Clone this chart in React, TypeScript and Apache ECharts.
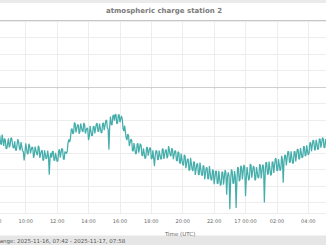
import React, { useEffect, useRef } from "react";
import * as echarts from "echarts";

// Time axis in hours since 2025-11-16 00:00 UTC
const rangeStartHour = 7.7; // 07:42
const rangeEndHour = 31.9667; // 2025-11-17 07:58
const sampleStepHours = 0.05; // 3-minute samples

// Atmospheric charge (V/m), in 3-minute samples
const seg0742 = [
  -143, -169, -166, -141, -139, -151, -164, -173, -151, -148,
  -177, -161, -146, -148, -171, -175, -144, -162, -179, -156,
  -161, -187, -186, -171, -156, -183, -178, -156, -154, -170,
  -185, -184, -165, -191, -192, -175, -158, -168, -186, -192,
  -167, -180, -194, -197, -223, -202, -171, -186, -202, -203,
  -172, -178, -201, -191, -182, -184, -215, -205, -181, -192,
  -203, -207, -178, -183, -215, -204, -194, -192, -223, -220,
  -192, -205, -218, -214, -193, -210, -266, -215, -200, -214,
];
const seg1142 = [
  -196, -195, -222, -223, -200, -213, -226, -224, -194, -189,
  -214, -200, -186, -190, -218, -220, -196, -199, -202, -193,
  -168, -159, -167, -155, -130, -126, -142, -139, -108, -111,
  -138, -126, -115, -115, -142, -136, -111, -122, -133, -136,
  -109, -114, -141, -132, -124, -127, -161, -150, -118, -133,
  -148, -147, -120, -119, -141, -126, -112, -110, -135, -135,
  -111, -124, -138, -139, -111, -109, -131, -117, -103, -100,
  -125, -128, -190, -120, -90, -113, -115, -88, -85, -102,
];
const seg1542 = [
  -83, -84, -111, -110, -85, -84, -107, -97, -88, -98,
  -127, -134, -117, -136, -155, -161, -143, -147, -179, -168,
  -158, -161, -194, -194, -170, -186, -203, -201, -173, -171,
  -199, -185, -172, -177, -207, -209, -186, -201, -217, -214,
  -183, -184, -208, -196, -184, -186, -218, -217, -192, -216,
  -240, -207, -193, -194, -220, -220, -193, -206, -219, -217,
  -188, -188, -218, -205, -192, -190, -216, -211, -179, -192,
  -206, -210, -186, -189, -219, -206, -194, -194, -223, -224,
];
const seg1942 = [
  -197, -198, -230, -232, -202, -220, -235, -238, -206, -209,
  -246, -232, -219, -219, -253, -251, -215, -233, -250, -255,
  -226, -229, -267, -250, -234, -232, -266, -266, -229, -248,
  -266, -269, -238, -241, -280, -262, -245, -244, -279, -278,
  -240, -260, -280, -283, -250, -255, -295, -275, -255, -256,
  -293, -292, -254, -277, -299, -294, -257, -259, -296, -274,
  -252, -260, -327, -273, -259, -270, -371, -286, -250, -256,
  -292, -292, -255, -271, -367, -285, -243, -247, -286, -281,
];
const seg2342 = [
  -239, -242, -280, -258, -236, -244, -331, -277, -243, -263,
  -283, -277, -234, -237, -275, -257, -240, -244, -283, -279,
  -243, -260, -276, -273, -234, -239, -277, -256, -235, -243,
  -350, -264, -228, -230, -265, -264, -226, -247, -268, -265,
  -227, -228, -261, -238, -216, -219, -254, -253, -219, -236,
  -254, -248, -209, -220, -290, -228, -206, -208, -238, -216,
  -195, -197, -229, -228, -195, -213, -232, -229, -196, -196,
  -226, -207, -188, -190, -219, -217, -185, -200, -215, -212,
];
const seg0342 = [
  -180, -182, -209, -207, -177, -195, -206, -201, -169, -169,
  -195, -178, -161, -164, -192, -189, -160, -172, -190, -187,
  -157, -158, -184, -170, -154, -156, -183, -184, -158, -172,
  -186, -184, -158, -159, -185, -168, -152, -153, -179, -177,
  -148, -163, -178, -177, -151, -151, -177, -160, -145, -147,
  -172, -172, -146, -162, -175, -171, -143, -143, -167, -153,
  -140, -142, -168, -167, -141, -155, -168, -165, -138, -138,
  -162, -148, -134, -136, -162, -160, -134, -147, -162, -160,
  -135, -137, -160, -160, -136,
];

const xTickHours = [8, 10, 12, 14, 16, 18, 20, 22, 24, 26, 28];
const zeroLineValue = 0;
const yMin = -383;
const yMax = 200;

const titleText = "atmospheric charge station 2";
const xAxisName = "Time (UTC)";
const footerText = "Range: 2025-11-16, 07:42 - 2025-11-17, 07:58";

const FONT = "DejaVu Sans";

function fmtHour(v: number): string {
  const h = Math.round(v);
  if (Math.abs(v - h) > 1e-6 || xTickHours.indexOf(h) < 0) return "";
  if (h === 24) return "17 00:00";
  const hh = h % 24;
  return (hh < 10 ? "0" : "") + hh + ":00";
}

export default function App() {
  const ref = useRef<HTMLDivElement>(null);

  useEffect(() => {
    if (!ref.current) return;
    const chart = echarts.init(ref.current, undefined, { renderer: "svg" });
    const values = [...seg0742, ...seg1142, ...seg1542, ...seg1942, ...seg2342, ...seg0342];
    const data = values.map((v, i) => [rangeStartHour + i * sampleStepHours, v]);

    chart.setOption({
      animation: false,
      backgroundColor: "#ffffff",
      title: {
        text: titleText,
        left: "center",
        top: 7,
        padding: 0,
        textStyle: { fontSize: 7, fontWeight: "bold", color: "#7a7a7a", fontFamily: FONT },
      },
      grid: { left: 49.6, right: 17.4, top: 21, bottom: 31.7 },
      xAxis: {
        type: "value",
        min: rangeStartHour,
        max: rangeEndHour,
        splitNumber: 12,
        name: xAxisName,
        nameLocation: "middle",
        nameGap: 17.5,
        nameTextStyle: { fontSize: 5.5, color: "#666", fontFamily: FONT },
        axisLine: { show: true, lineStyle: { color: "#cccccc", width: 1 } },
        axisTick: { show: true, length: 2, lineStyle: { color: "#cccccc" } },
        axisLabel: {
          fontSize: 5,
          color: "#666",
          fontFamily: FONT,
          margin: 5,
          showMinLabel: false,
          showMaxLabel: false,
          formatter: (v: number) => fmtHour(v),
        },
        splitLine: { show: true, lineStyle: { color: "#ededed", width: 1 } },
      },
      yAxis: {
        type: "value",
        min: yMin,
        max: yMax,
        splitNumber: 12,
        axisLine: { show: false },
        axisTick: { show: false },
        axisLabel: { show: false },
        splitLine: { show: true, lineStyle: { color: "#ededed", width: 1 } },
      },
      series: [
        {
          type: "line",
          data,
          showSymbol: false,
          symbol: "none",
          lineStyle: { color: "#45aeab", width: 1.25, join: "bevel" },
          markLine: {
            silent: true,
            symbol: "none",
            label: { show: false },
            lineStyle: { color: "#cfcfcf", width: 1, type: "solid" },
            data: [{ yAxis: zeroLineValue }],
          },
        },
      ],
      graphic: [
        { type: "rect", shape: { x: 0, y: 0, width: 448, height: 3 }, style: { fill: "#ebebeb" } },
        { type: "line", shape: { x1: 0, y1: 21, x2: 448, y2: 21 }, style: { stroke: "#b5b5b5", lineWidth: 1.3 } },
        { type: "rect", shape: { x: 0, y: 235.5, width: 448, height: 10 }, style: { fill: "#e6e6e6" } },
        {
          type: "text",
          x: 56,
          y: 240.5,
          style: {
            text: footerText,
            fontSize: 5.5,
            fontFamily: FONT,
            fill: "#555",
            verticalAlign: "middle",
          },
        },
      ],
    });
    return () => chart.dispose();
  }, []);

  return (
    <div
      style={{
        position: "fixed",
        left: 0,
        top: 0,
        width: 326,
        height: 245,
        overflow: "hidden",
        background: "#fff",
      }}
    >
      <div ref={ref} style={{ position: "absolute", left: -60, top: 0, width: 448, height: 245 }} />
    </div>
  );
}
